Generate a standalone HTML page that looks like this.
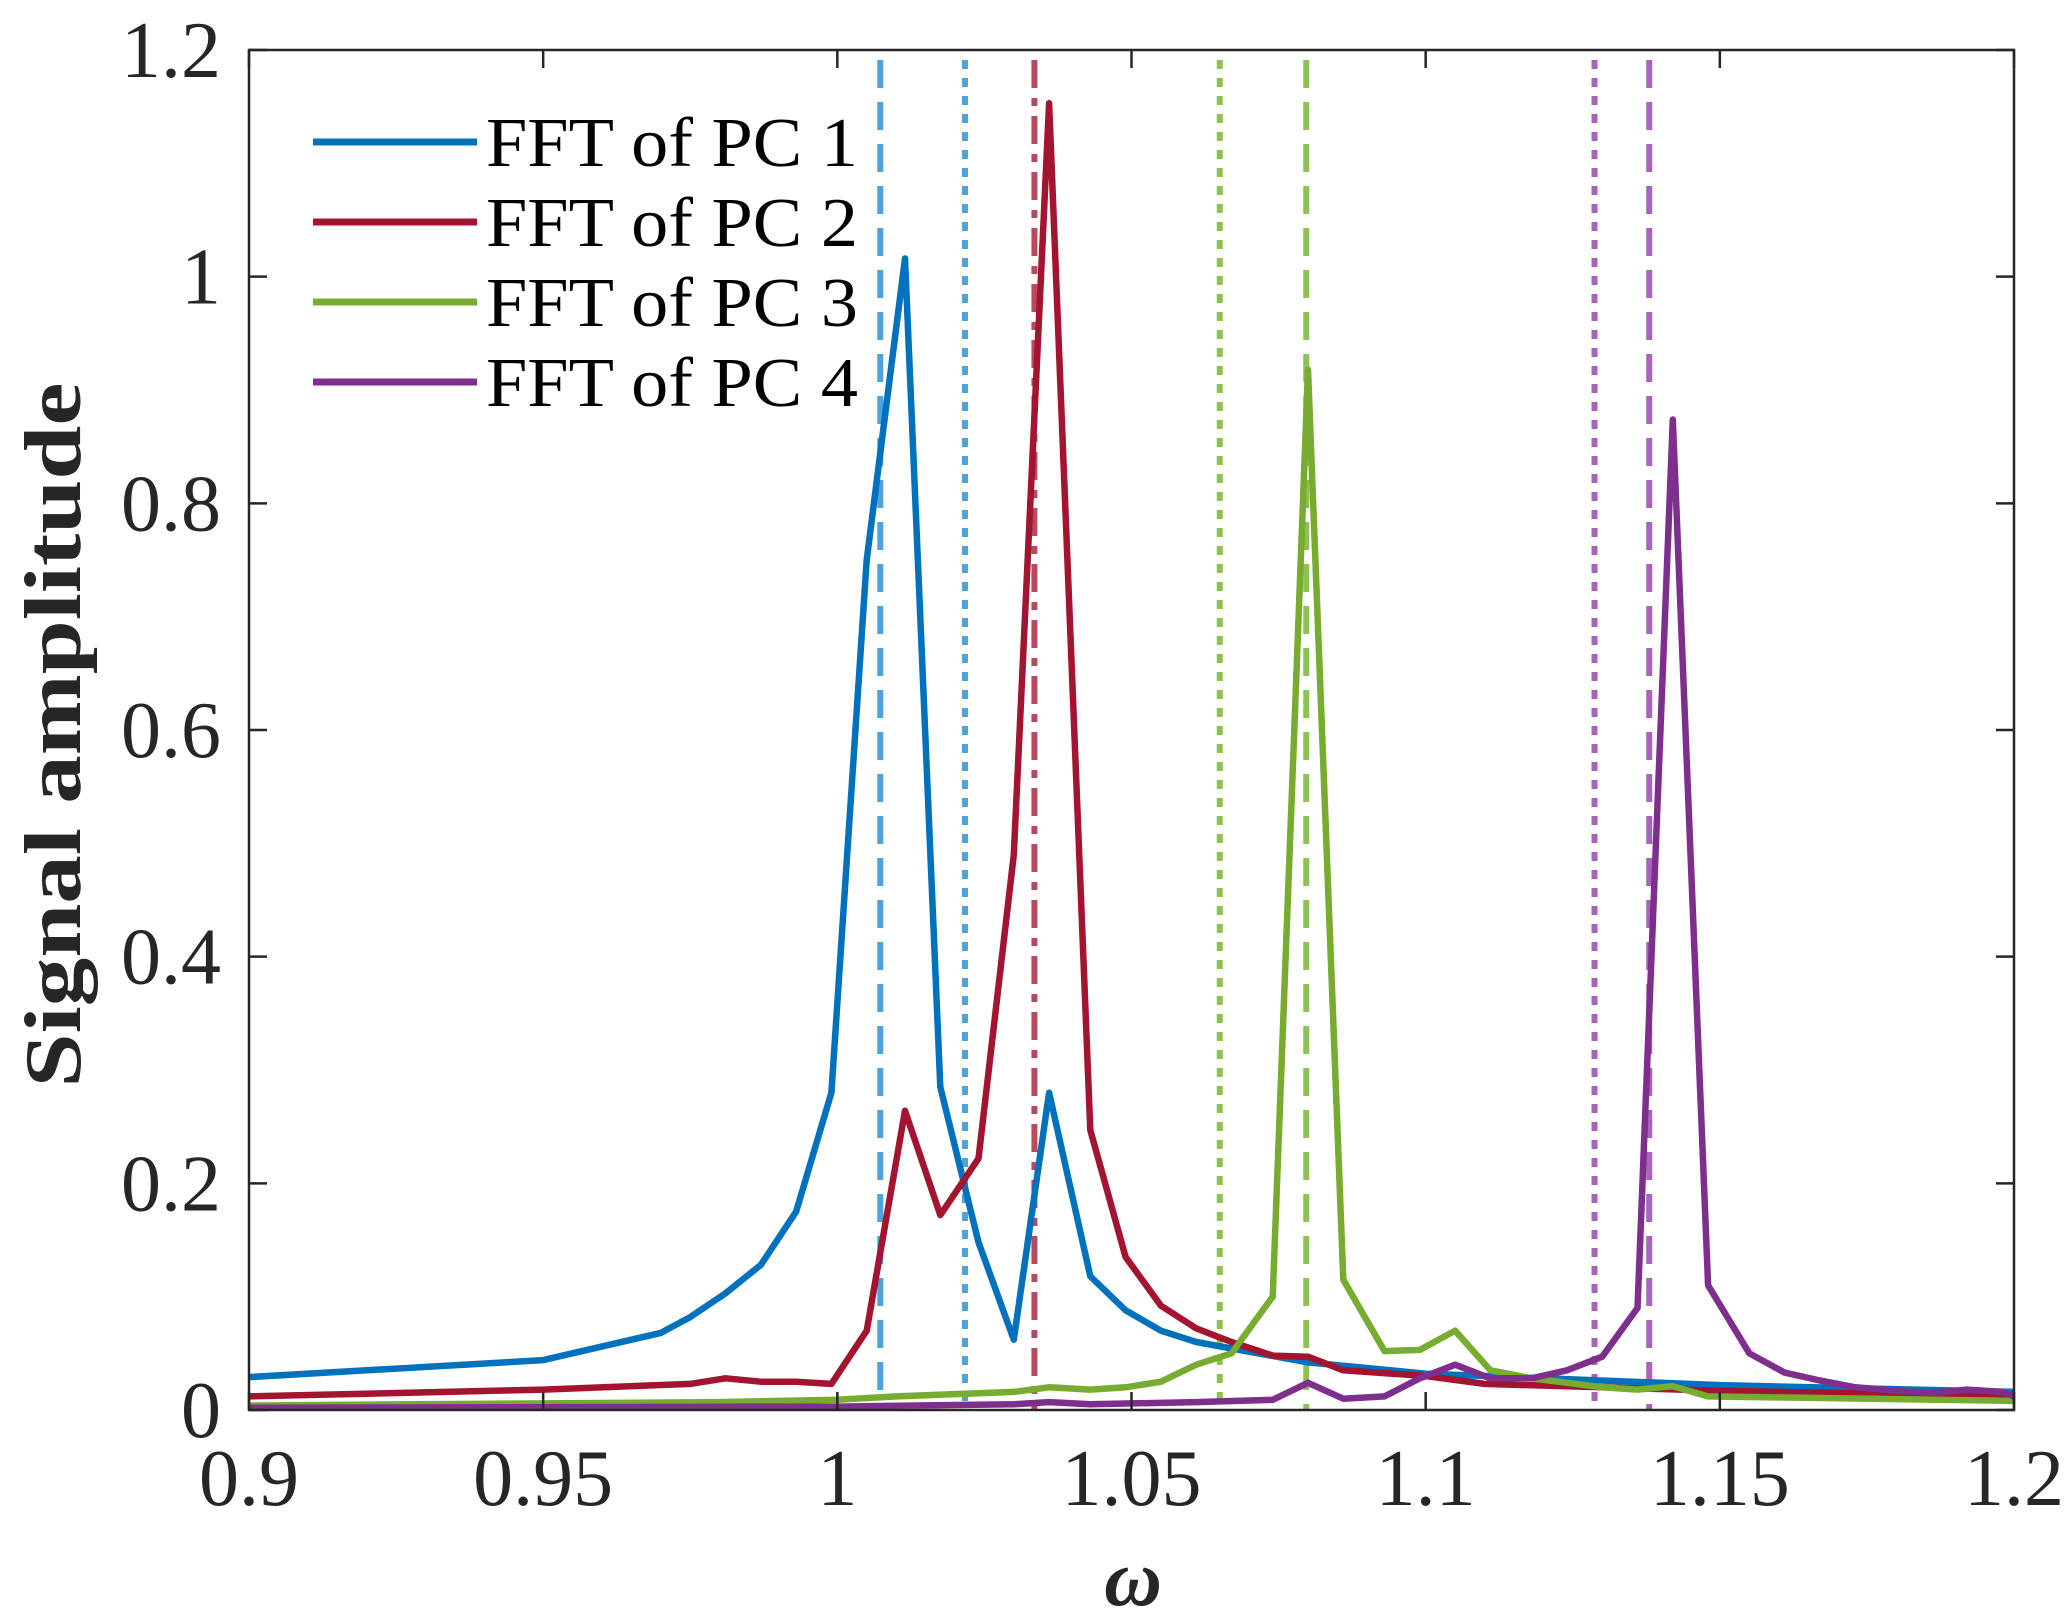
<!DOCTYPE html>
<html><head><meta charset="utf-8"><style>
html,body{margin:0;padding:0;background:#fff;}
svg{display:block;font-family:"Liberation Serif",serif;}
</style></head><body>
<svg id="chart" width="2067" height="1623" viewBox="0 0 2067 1623"></svg>
<script>
const xTicks=[0.9,0.95,1,1.05,1.1,1.15,1.2];
const xTickLabels=["0.9","0.95","1","1.05","1.1","1.15","1.2"];
const yTicks=[0,0.2,0.4,0.6,0.8,1,1.2];
const yTickLabels=["0","0.2","0.4","0.6","0.8","1","1.2"];
const seriesNames=["FFT of PC 1","FFT of PC 2","FFT of PC 3","FFT of PC 4"];
const pc1X=[0.9,0.95,0.97,0.975,0.981,0.987,0.993,0.999,1.005,1.0115,1.0175,1.024,1.030,1.036,1.043,1.049,1.055,1.061,1.08,1.1,1.15,1.2];
const pc1Y=[0.029,0.044,0.068,0.082,0.103,0.128,0.175,0.28,0.75,1.016,0.285,0.148,0.062,0.28,0.118,0.088,0.07,0.06,0.042,0.032,0.022,0.016];
const pc2X=[0.9,0.95,0.975,0.981,0.987,0.993,0.999,1.005,1.0115,1.0175,1.024,1.030,1.036,1.043,1.049,1.055,1.061,1.067,1.074,1.080,1.086,1.1,1.11,1.15,1.2];
const pc2Y=[0.012,0.018,0.023,0.028,0.025,0.025,0.023,0.07,0.264,0.172,0.222,0.49,1.153,0.247,0.135,0.092,0.072,0.06,0.048,0.047,0.035,0.03,0.023,0.017,0.012];
const pc3X=[0.9,0.98,1.0,1.01,1.03,1.036,1.043,1.049,1.055,1.061,1.067,1.074,1.080,1.086,1.093,1.099,1.105,1.111,1.118,1.124,1.13,1.136,1.142,1.148,1.2];
const pc3Y=[0.004,0.007,0.009,0.012,0.016,0.02,0.018,0.02,0.025,0.04,0.05,0.1,0.918,0.115,0.052,0.053,0.07,0.035,0.028,0.024,0.02,0.018,0.021,0.012,0.008];
const pc4X=[0.9,1.0,1.03,1.036,1.043,1.061,1.074,1.080,1.086,1.093,1.099,1.105,1.111,1.118,1.124,1.13,1.136,1.142,1.148,1.155,1.161,1.167,1.173,1.18,1.186,1.192,1.198,1.2];
const pc4Y=[0.002,0.003,0.005,0.007,0.005,0.007,0.009,0.024,0.01,0.012,0.028,0.04,0.028,0.028,0.035,0.047,0.09,0.874,0.11,0.05,0.033,0.026,0.02,0.017,0.015,0.018,0.016,0.012];
const vlineX=[1.0073,1.0217,1.0335,1.065,1.0797,1.1287,1.138];
const vlineStyle=["dash","dot","dashdot","dot","dash","dot","dash"];
const vlineSeries=[0,0,1,2,2,3,3];

const L=249,R=2014,T=50,B=1410;
const xs=v=>L+(v-0.9)/0.3*(R-L);
const ys=v=>B-v/1.2*(B-T);
const colors=["#0072BD","#A2142F","#77AC30","#7E2F8E"];
const light=["#4DA3DB","#BC4A5E","#8DC151","#A863BB"];
const svg=document.getElementById('chart');
const NS="http://www.w3.org/2000/svg";
function mk(tag,attrs,parent){const e=document.createElementNS(NS,tag);for(const k in attrs)e.setAttribute(k,attrs[k]);(parent||svg).appendChild(e);return e;}

const dashes={dash:"28,14",dot:"9,9",dashdot:"28,10,8,10"};
vlineX.forEach((v,i)=>{
  const l=mk('line',{x1:xs(v),x2:xs(v),y1:T+10,y2:B,stroke:light[vlineSeries[i]],'stroke-width':6,'stroke-dasharray':dashes[vlineStyle[i]]});
  
  
});
[[pc1X,pc1Y],[pc2X,pc2Y],[pc3X,pc3Y],[pc4X,pc4Y]].forEach((s,i)=>{
  const pts=s[0].map((x,j)=>xs(x).toFixed(1)+','+ys(s[1][j]).toFixed(1)).join(' ');
  const p=mk('polyline',{points:pts,fill:'none',stroke:colors[i],'stroke-width':6.5,'stroke-linejoin':'round'});
  
  
});
const box=mk('rect',{x:L,y:T,width:R-L,height:B-T,fill:'none',stroke:'#262626','stroke-width':2.5});


xTicks.forEach((v,i)=>{
  const x=xs(v);
  mk('line',{x1:x,x2:x,y1:B,y2:B-18,stroke:'#262626','stroke-width':2.5});
  mk('line',{x1:x,x2:x,y1:T,y2:T+18,stroke:'#262626','stroke-width':2.5});
  const t=mk('text',{x:x,y:B+95,'text-anchor':'middle','font-size':80,fill:'#262626'});
  t.textContent=xTickLabels[i];
  
  
});
yTicks.forEach((v,i)=>{
  const y=ys(v);
  mk('line',{x1:L,x2:L+18,y1:y,y2:y,stroke:'#262626','stroke-width':2.5});
  mk('line',{x1:R,x2:R-18,y1:y,y2:y,stroke:'#262626','stroke-width':2.5});
  const t=mk('text',{x:L-28,y:y+27,'text-anchor':'end','font-size':80,fill:'#262626'});
  t.textContent=yTickLabels[i];
  
  
});
const xt=mk('text',{x:1133,y:1605,'text-anchor':'middle','font-size':80,'font-style':'italic','font-weight':'bold',fill:'#262626'});
xt.textContent='ω';


const yt=mk('text',{x:0,y:0,'text-anchor':'middle','font-size':80,'font-weight':'bold',fill:'#262626',textLength:705,lengthAdjust:'spacingAndGlyphs',transform:'translate(80,735) rotate(-90)'});
yt.textContent='Signal amplitude';


seriesNames.forEach((n,i)=>{
  const y=142+i*80;
  const g=mk('g',{});
  
  
  mk('line',{x1:313,x2:477,y1:y,y2:y,stroke:colors[i],'stroke-width':7},g);
  const t=mk('text',{x:486,y:y+24,'font-size':70,fill:'#000',textLength:372,lengthAdjust:'spacingAndGlyphs'},g);
  t.textContent=n;
});
</script>
</body></html>
